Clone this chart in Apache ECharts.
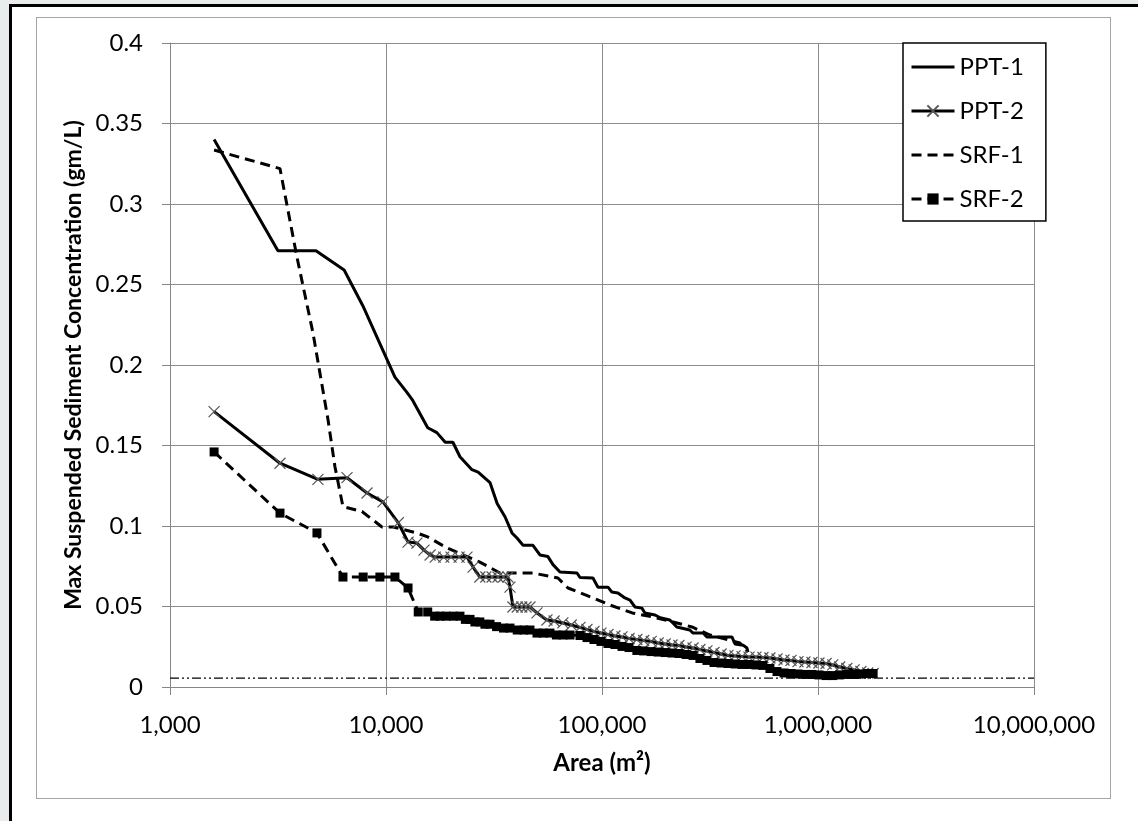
<!DOCTYPE html>
<html>
<head>
<meta charset="utf-8">
<script src="https://cdn.jsdelivr.net/npm/echarts@6/dist/echarts.min.js"></script>
<style>
  body { margin: 0; width: 1138px; height: 821px; overflow: hidden; background: #e8ecec; position: relative; }
  #frame { position: absolute; left: 9px; top: 4px; width: 1140px; height: 830px; border-left: 3px solid #000; border-top: 3px solid #000; background: #fff; }
  #inner { position: absolute; left: 36px; top: 17px; width: 1073px; height: 780px; border: 1px solid #a6a6a6; }
  #main { position: absolute; left: 0; top: 0; width: 1138px; height: 821px; }
</style>
</head>
<body>
<div id="frame"></div>
<div id="inner"></div>
<div id="main"></div>
<script>
// [area m2, max SSC gm/L]
var ppt1 = [[1600,0.34],[3160,0.271],[4740,0.271],[6400,0.259],[7800,0.237],[11000,0.1925],[12500,0.183],[13300,0.178],
  [15600,0.161],[17200,0.158],[18800,0.152],[20400,0.152],[22000,0.143],[25000,0.135],[26700,0.1335],[30300,0.127],
  [32700,0.114],[35600,0.1056],[38300,0.0957],[40400,0.0925],[43100,0.088],[47900,0.088],[51600,0.082],[56200,0.081],
  [59300,0.076],[63900,0.0714],[76600,0.0708],[79100,0.068],[90800,0.0677],[95800,0.062],[106600,0.062],[111000,0.059],
  [118500,0.0584],[127700,0.0553],[134800,0.054],[142000,0.0497],[153000,0.049],[158000,0.046],[176000,0.0447],
  [186000,0.043],[206000,0.0416],[213000,0.0398],[222000,0.0373],[255000,0.0354],[264000,0.0335],[294000,0.0335],
  [306000,0.031],[400000,0.031],[413000,0.0267],[450000,0.026],[469000,0.0242],[474000,0.0217]];

var ppt2 = [[1600,0.171],[3230,0.139],[4840,0.129],[6600,0.13],[8170,0.1205],[9680,0.115],[11400,0.102],[12650,0.09],
  [13900,0.0894],[15000,0.085],[16000,0.082],[16900,0.0807],[18500,0.0807],[20000,0.0807],[21800,0.0807],[23700,0.0807],
  [25300,0.0745],[27200,0.0683],[29000,0.0683],[31000,0.0683],[33000,0.0683],[35000,0.0683],[36700,0.0683],[37500,0.062],
  [38700,0.0497],[40500,0.0497],[42500,0.0497],[44500,0.0497],[46400,0.0497],[50000,0.046],[55600,0.0416],[60000,0.041],
  [65900,0.0398],[72000,0.0385],[79100,0.037],[85200,0.0357],[91800,0.0345],[98900,0.0335],[106600,0.0326],
  [114800,0.0317],[123800,0.0311],[133400,0.0301],[145000,0.0295],[156000,0.0289],[169000,0.0283],[182000,0.0273],
  [196000,0.0267],[211000,0.0261],[227000,0.0258],[245000,0.0248],[264000,0.0242],[284000,0.0233],[306000,0.0224],
  [330000,0.0214],[356000,0.0205],[383000,0.0196],[413000,0.0193],[445000,0.0189],[479000,0.0186],[516000,0.0186],
  [556000,0.0183],[599000,0.018],[646000,0.0174],[696000,0.0168],[750000,0.0165],[808000,0.0158],[870000,0.0155],
  [938000,0.0152],[1010000,0.0149],[1090000,0.0146],[1170000,0.0137],[1260000,0.0124],[1360000,0.0115],
  [1470000,0.0106],[1580000,0.0096],[1700000,0.0087],[1800000,0.0084]];

var srf1 = [[1600,0.3335],[3230,0.322],[3870,0.267],[4590,0.22],[5390,0.166],[5800,0.137],[6320,0.112],[7740,0.109],
  [9580,0.0994],[10800,0.0994],[13900,0.0957],[15600,0.0932],[19200,0.0863],[27200,0.0776],[33700,0.0708],[47900,0.0708],
  [62500,0.0677],[69600,0.0615],[90800,0.0553],[109000,0.0509],[138000,0.046],[172000,0.0435],[213000,0.0404],
  [261000,0.0373],[316000,0.0323],[435000,0.0273],[474000,0.0217]];

var srf2 = [[1600,0.146],[3230,0.108],[4790,0.0957],[6320,0.0683],[7840,0.0683],[9370,0.0683],[11000,0.0683],[12650,0.0615],
  [14100,0.0466],[15600,0.0466],[16800,0.044],[17800,0.044],[19000,0.044],[20500,0.044],[22000,0.044],[23300,0.042],
  [24500,0.042],[25800,0.0404],[27200,0.0404],[28700,0.039],[30300,0.039],[32500,0.0375],[35000,0.0366],[37500,0.0366],
  [40500,0.0354],[43500,0.0354],[46400,0.0354],[50000,0.0335],[53500,0.0335],[57400,0.0335],[61500,0.0323],[66000,0.0323],
  [71100,0.0323],[79100,0.032],[85200,0.0307],[91800,0.0295],[98900,0.0283],[106600,0.027],[114800,0.0264],
  [123800,0.0252],[133400,0.0245],[145000,0.0227],[156000,0.0224],[169000,0.022],[182000,0.0217],[196000,0.0214],
  [211000,0.0211],[227000,0.0208],[245000,0.0202],[264000,0.0196],[284000,0.0177],[306000,0.0165],[330000,0.0152],
  [356000,0.0149],[383000,0.0146],[413000,0.0143],[445000,0.014],[479000,0.014],[516000,0.0137],[556000,0.0134],
  [599000,0.0115],[646000,0.0096],[696000,0.0087],[750000,0.0084],[808000,0.0081],[870000,0.0078],[938000,0.0078],
  [1010000,0.0075],[1090000,0.0071],[1170000,0.0071],[1260000,0.0075],[1360000,0.0078],[1470000,0.0078],
  [1580000,0.0081],[1700000,0.0084],[1800000,0.0084]];

// dash-dot reference level across the plot
var limitLine = [[1000,0.0055],[10000000,0.0055]];

var seriesNames = ['PPT-1','PPT-2','SRF-1','SRF-2'];
var noMarker = {'PPT-1': true, 'SRF-1': true};

var font = 'Lato, "Open Sans", sans-serif';
var chart = echarts.init(document.getElementById('main'));
var option = {
  animation: false,
  grid: {left: 170, top: 43, right: 104, bottom: 134},
  legend: {
    data: seriesNames.map(function (n) {
      return noMarker[n] ? {name: n, itemStyle: {opacity: 0}} : {name: n};
    }),
    orient: 'vertical',
    left: 903, top: 43,
    padding: [12, 22, 10, 7],
    itemGap: 20, itemWidth: 43, itemHeight: 14,
    lineStyle: {width: 3},
    backgroundColor: '#fff', borderColor: '#000', borderWidth: 1.5,
    textStyle: {fontFamily: font, fontSize: 24, color: '#000'}
  },
  xAxis: {
    type: 'log', logBase: 10, min: 1000, max: 10000000,
    axisLine: {onZero: false, lineStyle: {color: '#868686'}},
    axisTick: {length: 8, lineStyle: {color: '#868686'}},
    minorTick: {show: false},
    splitLine: {show: true, lineStyle: {color: '#8c8c8c'}},
    axisLabel: {fontFamily: font, fontSize: 24, color: '#000', margin: 26,
      formatter: function (v) { return Math.round(v).toLocaleString('en-US'); }},
    name: 'Area (m\u00B2)', nameLocation: 'middle', nameGap: 64,
    nameTextStyle: {fontFamily: font, fontSize: 24, fontWeight: 'bold', color: '#000'}
  },
  yAxis: {
    type: 'value', min: 0, max: 0.4, interval: 0.05,
    axisLine: {show: true, onZero: false, lineStyle: {color: '#868686'}},
    axisTick: {show: true, length: 8, lineStyle: {color: '#868686'}},
    splitLine: {lineStyle: {color: '#8c8c8c'}},
    axisLabel: {fontFamily: font, fontSize: 24, color: '#000', margin: 27},
    name: 'Max Suspended Sediment Concentration (gm/L)', nameLocation: 'middle', nameGap: 84,
    nameTextStyle: {fontFamily: font, fontSize: 23, fontWeight: 'bold', color: '#000'}
  },
  series: [
    {name: 'limit', type: 'line', data: limitLine, symbol: 'none', silent: true,
      lineStyle: {color: '#000', width: 1.2, type: [9, 3, 2, 3, 2, 3]}},
    {name: 'PPT-1', type: 'line', data: ppt1, symbol: 'none',
      lineStyle: {color: '#000', width: 3}, itemStyle: {color: '#000'}},
    {name: 'PPT-2', type: 'line', data: ppt2, symbol: 'path://M0,0L10,10M10,0L0,10', symbolSize: 11,
      lineStyle: {color: '#000', width: 3},
      itemStyle: {color: 'none', borderColor: '#555', borderWidth: 1.2}},
    {name: 'SRF-1', type: 'line', data: srf1, symbol: 'none',
      lineStyle: {color: '#000', width: 3, type: [10, 6]}, itemStyle: {color: '#000'}},
    {name: 'SRF-2', type: 'line', data: srf2, symbol: 'rect', symbolSize: 9,
      lineStyle: {color: '#000', width: 3, type: [10, 6]}, itemStyle: {color: '#000'}}
  ]
};
chart.setOption(option);
</script>
</body>
</html>
